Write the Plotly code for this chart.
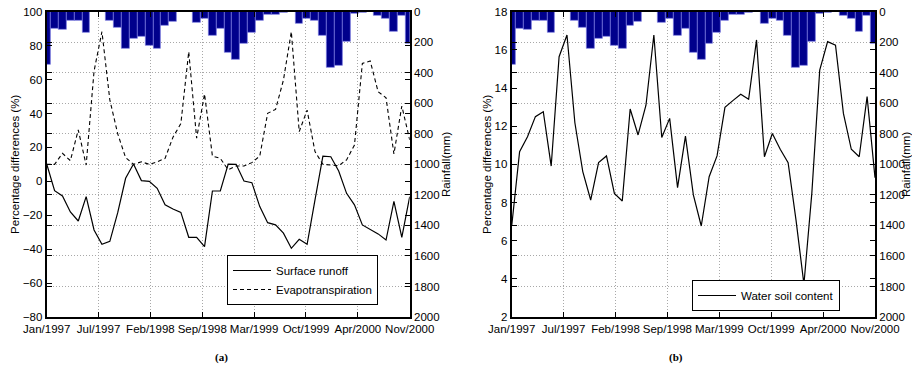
import plotly.graph_objects as go

# Monthly series, Jan 1997 .. Nov 2000
months = ["Jan/1997", "Feb/1997", "Mar/1997", "Apr/1997", "May/1997", "Jun/1997",
          "Jul/1997", "Aug/1997", "Sep/1997", "Oct/1997", "Nov/1997", "Dec/1997",
          "Jan/1998", "Feb/1998", "Mar/1998", "Apr/1998", "May/1998", "Jun/1998",
          "Jul/1998", "Aug/1998", "Sep/1998", "Oct/1998", "Nov/1998", "Dec/1998",
          "Jan/1999", "Feb/1999", "Mar/1999", "Apr/1999", "May/1999", "Jun/1999",
          "Jul/1999", "Aug/1999", "Sep/1999", "Oct/1999", "Nov/1999", "Dec/1999",
          "Jan/2000", "Feb/2000", "Mar/2000", "Apr/2000", "May/2000", "Jun/2000",
          "Jul/2000", "Aug/2000", "Sep/2000", "Oct/2000", "Nov/2000"]

rainfall = [349, 109, 120, 59, 59, 135, 3, 0, 59, 105, 240, 179,
            164, 225, 240, 92, 66, 2, 0, 72, 48, 159, 109, 268,
            317, 207, 135, 59, 22, 22, 4, 0, 76, 44, 59, 157,
            367, 356, 197, 15, 7, 0, 26, 44, 131, 26, 207]

surface_runoff = [10.2, -5.5, -8.6, -18.1, -23.4, -9.0, -28.7, -37.1, -35.4, -18.5, 1.8, 10.2,
                  0.4, 0.0, -4.1, -13.8, -16.3, -18.3, -33.0, -33.0, -38.5, -5.7, -5.7, 10.1,
                  10.0, 0.2, -0.8, -14.9, -24.4, -25.7, -30.6, -39.5, -34.2, -37.1, -11.0, 14.9,
                  14.5, 6.1, -7.1, -13.9, -25.7, -28.3, -31.0, -34.6, -11.8, -33.0, -9.0]

evapotranspiration = [10.0, 10.0, 16.5, 12.2, 30.3, 9.6, 65.0, 88.2, 48.0, 28.0, 14.0, 10.0,
                      11.5, 10.0, 11.5, 13.5, 26.0, 34.0, 76.4, 25.4, 51.5, 14.9, 13.5, 6.8,
                      9.0, 9.0, 11.0, 14.9, 40.1, 42.4, 59.7, 88.2, 29.3, 42.0, 17.5, 10.0,
                      9.6, 9.2, 12.6, 21.4, 69.5, 70.9, 52.8, 49.3, 16.1, 44.4, 24.4]

water_soil = [6.77, 10.66, 11.45, 12.5, 12.76, 9.91, 15.64, 16.78, 12.18, 9.62, 8.13, 10.09,
              10.44, 8.48, 8.08, 12.9, 11.54, 13.1, 16.78, 11.41, 12.41, 8.78, 11.48, 8.4,
              6.77, 9.35, 10.44, 12.99, 13.34, 13.67, 13.41, 16.52, 10.4, 11.62, 10.79, 10.09,
              7.08, 3.72, 8.48, 14.94, 16.43, 16.25, 12.67, 10.79, 10.4, 13.55, 9.3]

tick_labels = ["Jan/1997", "Jul/1997", "Feb/1998", "Sep/1998",
               "Mar/1999", "Oct/1999", "Apr/2000", "Nov/2000"]

x = list(range(len(months)))
span = len(months) - 1
tick_pos = [k * span / (len(tick_labels) - 1) for k in range(len(tick_labels))]

FONT = "Liberation Sans, Arial, sans-serif"
FS = 11.5
BAR_FILL = "#00008c"
BAR_EDGE = "#7878e0"
GRID = "#a8a8a8"
GRID_DASH = "1px,2px"

fig = go.Figure()

# ---- panel (a) ----
fig.add_trace(go.Bar(x=x, y=rainfall, width=1.0, marker=dict(color=BAR_FILL, line=dict(color=BAR_EDGE, width=0.7)),
                     xaxis="x", yaxis="y", showlegend=False, customdata=months,
                     hovertemplate="%{customdata}: %{y} mm<extra></extra>"))
fig.add_trace(go.Scatter(x=x, y=surface_runoff, mode="lines", name="Surface runoff",
                         line=dict(color="black", width=1.2), xaxis="x", yaxis="y2",
                         legend="legend", customdata=months))
fig.add_trace(go.Scatter(x=x, y=evapotranspiration, mode="lines", name="Evapotranspiration",
                         line=dict(color="black", width=1.1, dash="4px,3px"), xaxis="x", yaxis="y2",
                         legend="legend", customdata=months))

# ---- panel (b) ----
fig.add_trace(go.Bar(x=x, y=rainfall, width=1.0, marker=dict(color=BAR_FILL, line=dict(color=BAR_EDGE, width=0.7)),
                     xaxis="x2", yaxis="y3", showlegend=False, customdata=months,
                     hovertemplate="%{customdata}: %{y} mm<extra></extra>"))
fig.add_trace(go.Scatter(x=x, y=water_soil, mode="lines", name="Water soil content",
                         line=dict(color="black", width=1.2), xaxis="x2", yaxis="y4",
                         legend="legend2", customdata=months))

xd_a = [46.7 / 912, 409.7 / 912]
xd_b = [511.7 / 912, 875.0 / 912]
yd = [57.0 / 374, 362.3 / 374]

axis_common = dict(showline=True, linecolor="black", linewidth=2, mirror="ticks",
                   ticks="inside", ticklen=5, tickcolor="black", tickwidth=1,
                   tickfont=dict(family=FONT, size=FS, color="black"), automargin=False,
                   zeroline=False)

def xaxis_cfg(domain, anchor):
    return dict(domain=domain, anchor=anchor, range=[0, span], tickmode="array",
                tickvals=tick_pos, ticktext=tick_labels, showgrid=True, gridcolor=GRID,
                griddash=GRID_DASH, gridwidth=1, **axis_common)

def rain_cfg(anchor):
    return dict(domain=yd, anchor=anchor, side="right", range=[2000, 0], tickmode="array",
                tickvals=list(range(0, 2001, 200)), showgrid=True, gridcolor=GRID,
                griddash=GRID_DASH, gridwidth=1,
                title=dict(text="Rainfall(mm)", font=dict(family=FONT, size=FS, color="black"), standoff=0),
                **axis_common)

def pct_cfg(overlay, anchor, rng, dtick):
    return dict(overlaying=overlay, anchor=anchor, side="left", range=rng, dtick=dtick,
                tick0=rng[0], showgrid=False,
                title=dict(text="Percentage differences (%)", font=dict(family=FONT, size=FS, color="black"), standoff=1),
                **axis_common)

fig.update_layout(
    width=912, height=374, margin=dict(l=0, r=0, t=0, b=0),
    paper_bgcolor="white", plot_bgcolor="white",
    font=dict(family=FONT, size=FS, color="black"),
    bargap=0,
    xaxis=xaxis_cfg(xd_a, "y"),
    yaxis=rain_cfg("x"),
    yaxis2=pct_cfg("y", "x", [-80, 100], 20),
    xaxis2=xaxis_cfg(xd_b, "y3"),
    yaxis3=rain_cfg("x2"),
    yaxis4=pct_cfg("y3", "x2", [2, 18], 2),
    legend=dict(x=227 / 912, y=1 - 255 / 374, xanchor="left", yanchor="top",
                bgcolor="white", bordercolor="black", borderwidth=1,
                font=dict(family=FONT, size=FS, color="black"), itemwidth=38,
                tracegroupgap=0, entrywidth=130, entrywidthmode="pixels"),
    legend2=dict(x=692 / 912, y=1 - 280 / 374, xanchor="left", yanchor="top",
                 bgcolor="white", bordercolor="black", borderwidth=1,
                 font=dict(family=FONT, size=FS, color="black"), itemwidth=38,
                 entrywidth=120, entrywidthmode="pixels"),
    annotations=[
        dict(text="<b>(a)</b>", x=213 / 912, y=1 - 366 / 374, xref="paper", yref="paper",
             showarrow=False, font=dict(family="Liberation Serif, Times New Roman, serif", size=11, color="black")),
        dict(text="<b>(b)</b>", x=685 / 912, y=1 - 366 / 374, xref="paper", yref="paper",
             showarrow=False, font=dict(family="Liberation Serif, Times New Roman, serif", size=11, color="black")),
    ],
)

fig.write_html("out.html")
